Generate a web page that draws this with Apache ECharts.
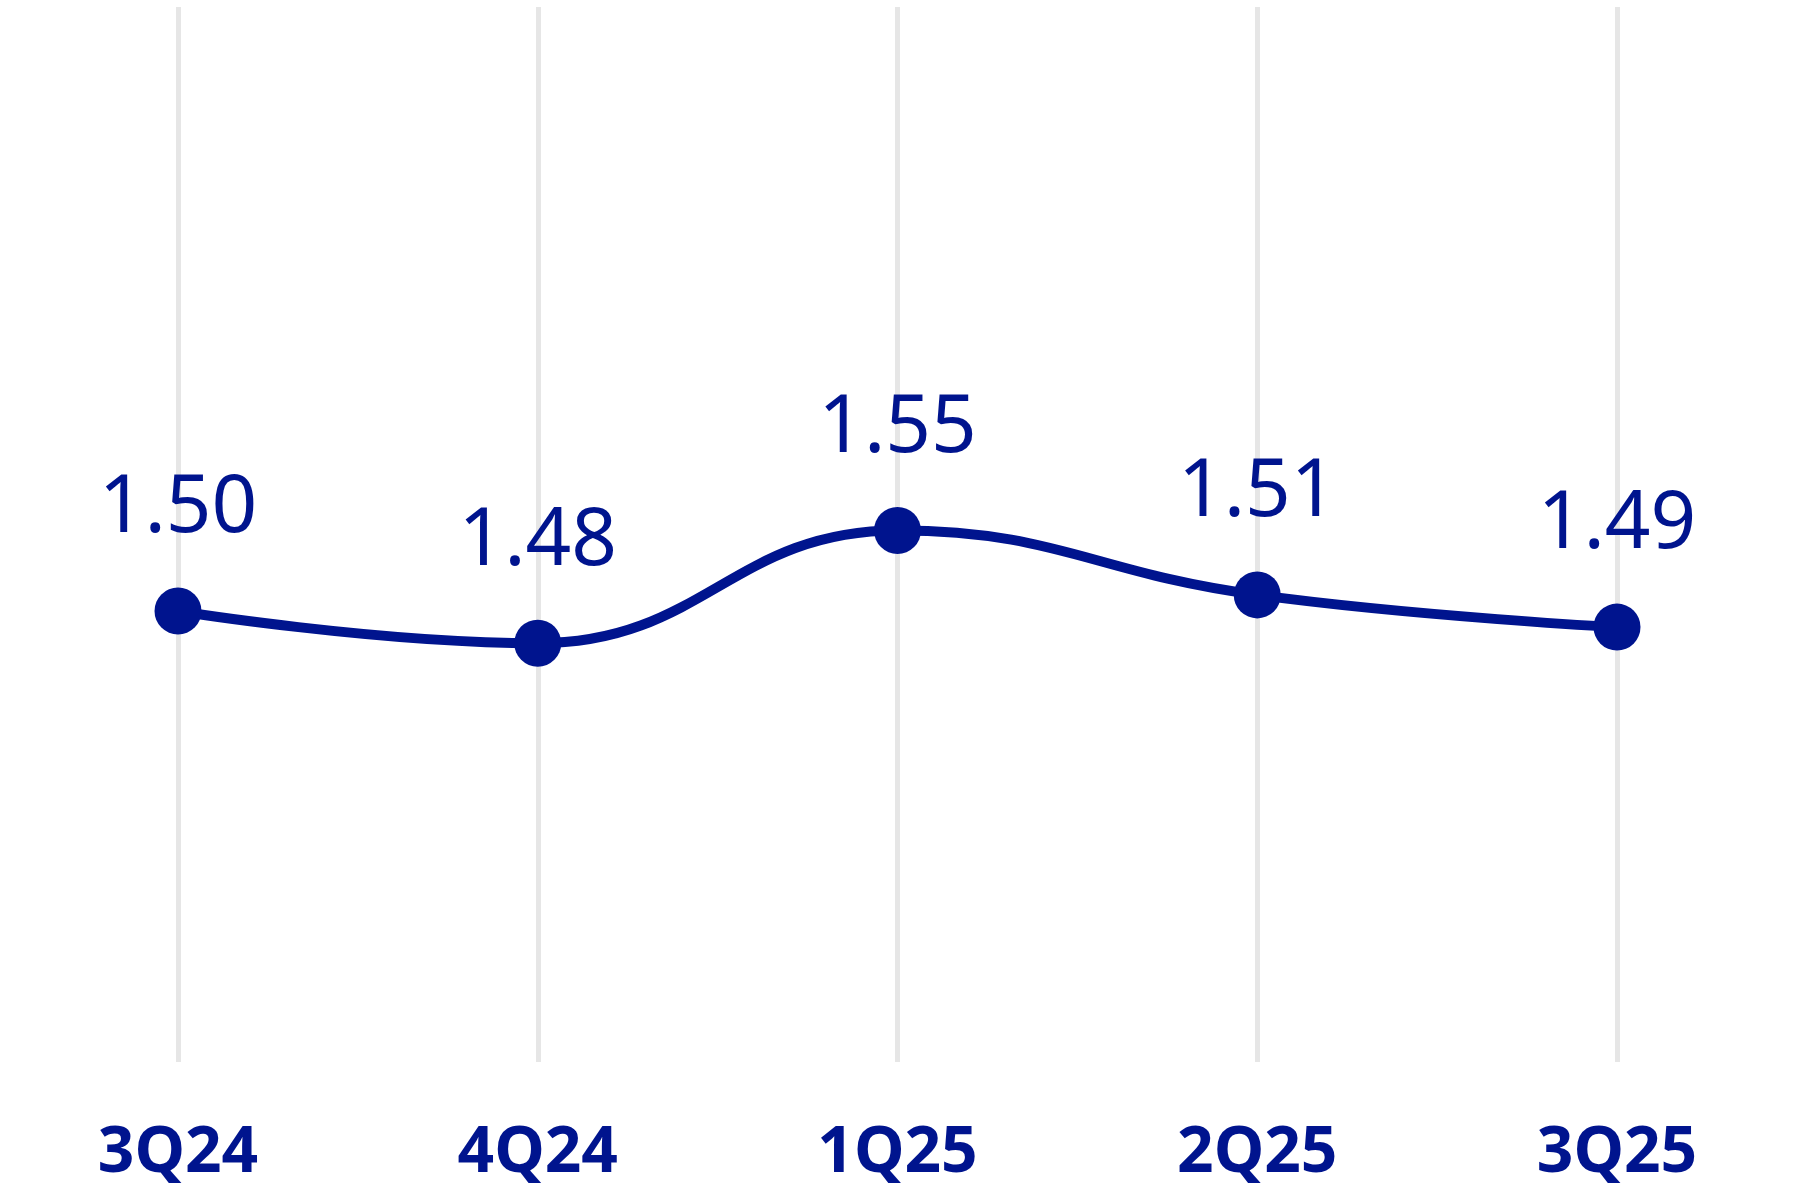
<!DOCTYPE html>
<html>
<head>
<meta charset="utf-8">
<script src="https://cdn.jsdelivr.net/npm/echarts@6/dist/echarts.min.js"></script>
<style>
  html, body { margin: 0; padding: 0; background: #fff; }
  #chart { width: 1800px; height: 1200px; }
</style>
</head>
<body>
<div id="chart"></div>
<script>
// quarters and values
const quarters = ['3Q24', '4Q24', '1Q25', '2Q25', '3Q25'];
const values = [1.50, 1.48, 1.55, 1.51, 1.49];

const NAVY = '#00148e';

const chart = echarts.init(document.getElementById('chart'));

chart.setOption({
  backgroundColor: '#ffffff',
  animation: false,
  grid: { left: 178, right: 183, top: 7, bottom: 138 },
  xAxis: {
    type: 'category',
    data: quarters,
    boundaryGap: false,
    axisLine: { show: false },
    axisTick: { show: false },
    splitLine: { show: true, lineStyle: { color: '#e6e6e6', width: 5 } },
    axisLabel: {
      margin: 60,
      color: NAVY,
      fontFamily: 'Noto Sans',
      fontWeight: 'bold',
      fontSize: 64
    }
  },
  yAxis: {
    type: 'value',
    min: 1.22,
    max: 1.875,
    show: false,
    splitLine: { show: false }
  },
  series: [{
    type: 'line',
    data: values,
    smooth: 0.45,
    symbol: 'circle',
    symbolSize: 47,
    lineStyle: { color: NAVY, width: 10 },
    itemStyle: { color: NAVY },
    label: {
      show: true,
      position: 'top',
      distance: 38,
      color: NAVY,
      fontFamily: 'Noto Sans',
      fontSize: 80,
      formatter: p => p.value.toFixed(2)
    }
  }]
});
</script>
</body>
</html>
